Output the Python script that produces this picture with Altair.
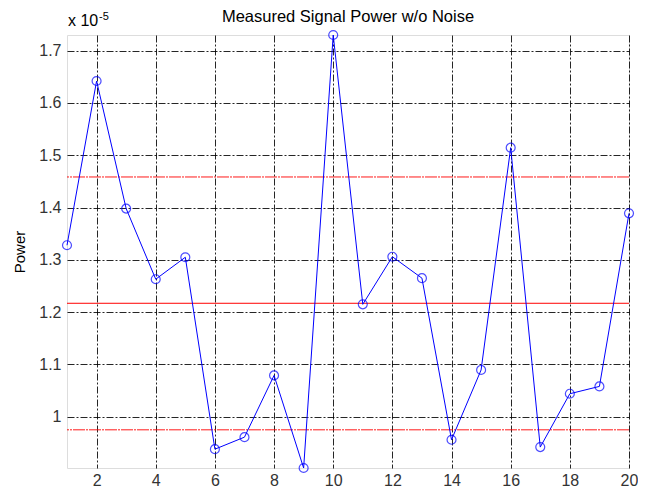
import altair as alt
import pandas as pd

# Data (values in units of 1e-5)
index = list(range(1, 21))
power = [1.328, 1.642, 1.398, 1.263, 1.305, 0.938, 0.961, 1.079, 0.902, 1.730,
         1.215, 1.306, 1.265, 0.956, 1.0895, 1.5145, 0.942, 1.044, 1.058, 1.389]
mean_line = [1.217]
band_lines = [1.4585, 0.975]
x_ticks = [2, 4, 6, 8, 10, 12, 14, 16, 18, 20]
y_ticks = [1.0, 1.1, 1.2, 1.3, 1.4, 1.5, 1.6, 1.7]
title_text = "Measured Signal Power w/o Noise"

W, H = 562, 433
FONT = "Liberation Sans"

df = pd.DataFrame({"idx": index, "power": power})
df_mean = pd.DataFrame({"v": mean_line})
df_band = pd.DataFrame({"v": band_lines})

xscale = alt.Scale(domain=[1, 20], nice=False, zero=False)
yscale = alt.Scale(domain=[0.902, 1.730], nice=False, zero=False)

xaxis = alt.Axis(values=x_ticks, title=None, grid=True, gridColor="#000000",
                 gridDash=[7, 2, 2, 2], gridOpacity=0.85, gridWidth=1,
                 ticks=False, domain=False, labelFont=FONT, labelFontSize=16,
                 labelColor="#333333", labelPadding=4, labelFlush=False)
yaxis = alt.Axis(values=y_ticks, title="Power", grid=True, gridColor="#000000",
                 gridDash=[7, 2, 2, 2], gridOpacity=0.85, gridWidth=1,
                 ticks=False, domain=False, labelFont=FONT, labelFontSize=16,
                 labelColor="#333333", labelPadding=6, format=".1~f",
                 titleFont=FONT, titleFontSize=15, titleFontWeight="normal",
                 titleColor="#000000", titleX=-48, titleY=H / 2, titleAngle=-90,
                 titleAlign="center", titleBaseline="middle")

base = alt.Chart(df)

line = base.mark_line(color="#0000ff", strokeWidth=1).encode(
    x=alt.X("idx:Q", scale=xscale, axis=xaxis),
    y=alt.Y("power:Q", scale=yscale, axis=yaxis),
)
points = base.mark_point(shape="circle", filled=False, color="#0000ff",
                         size=80, strokeWidth=1.2, clip=False).encode(
    x=alt.X("idx:Q", scale=xscale),
    y=alt.Y("power:Q", scale=yscale),
)

mean_rule = alt.Chart(df_mean).mark_rule(color="#ff0000", strokeWidth=1).encode(
    y=alt.Y("v:Q", scale=yscale))
band_rule = alt.Chart(df_band).mark_rule(color="#ff0000", strokeWidth=1,
                                          strokeDash=[12, 1, 2, 1], opacity=0.9).encode(
    y=alt.Y("v:Q", scale=yscale))

title = alt.Chart(pd.DataFrame({"t": [title_text]})).mark_text(
    font=FONT, fontSize=16.5, color="#000000", align="center", baseline="alphabetic"
).encode(x=alt.value(W / 2), y=alt.value(-13), text="t:N")

exp_base = alt.Chart(pd.DataFrame({"t": ["x 10"]})).mark_text(
    font=FONT, fontSize=16, color="#000000", align="left", baseline="alphabetic"
).encode(x=alt.value(1), y=alt.value(-9), text="t:N")
exp_sup = alt.Chart(pd.DataFrame({"t": ["-5"]})).mark_text(
    font=FONT, fontSize=11, color="#000000", align="left", baseline="alphabetic"
).encode(x=alt.value(32), y=alt.value(-15), text="t:N")

chart = alt.layer(band_rule, mean_rule, line, points, title, exp_base, exp_sup).properties(
    width=W, height=H,
    autosize=alt.AutoSizeParams(type="none"),
    padding={"left": 59, "top": 27, "right": 9, "bottom": 23},
).configure_view(stroke="#555555", strokeWidth=1.3).configure(background="#ffffff")

chart.save("out.html", embed_options={"renderer": "svg", "actions": False})
